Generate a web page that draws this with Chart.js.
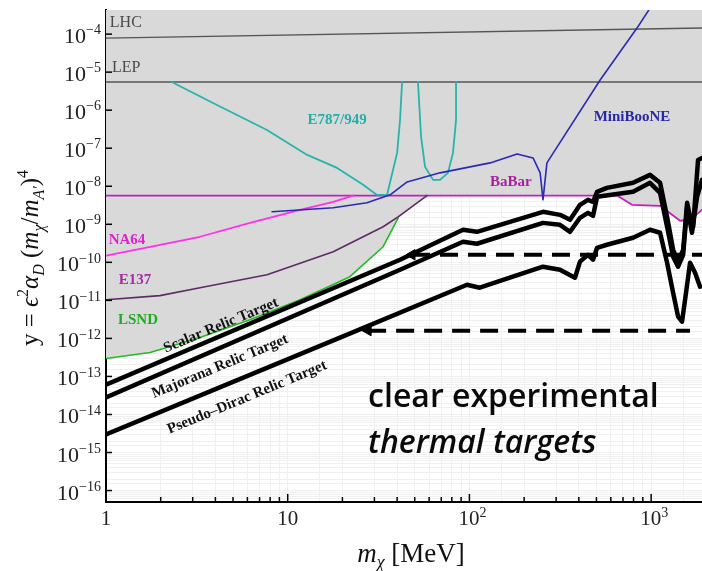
<!DOCTYPE html>
<html>
<head>
<meta charset="utf-8">
<script src="https://cdn.jsdelivr.net/npm/chart.js@4.4.1/dist/chart.umd.min.js"></script>
<style>
    html, body { margin: 0; padding: 0; background: #fff; }
    #wrap { width: 702px; height: 571px; position: relative; }
</style>
</head>
<body>
<div id="wrap"><canvas id="myChart"></canvas></div>
<script>
// axis ranges (m_chi in MeV, y dimensionless)
var xMin = 1, xMax = 1905;
var yMin = 5.1e-17, yMax = 4.3e-4;
var xTickExp = [0, 1, 2, 3];
var yTickExp = [-16, -15, -14, -13, -12, -11, -10, -9, -8, -7, -6, -5, -4];

// experimental bounds, [m_chi, y]
var lhc = [[1, 7.85e-5], [1905, 1.45e-4]];
var lep = [[1, 5.5e-6], [1905, 5.5e-6]];
var babar = [[1, 5.7e-9], [649, 5.7e-9], [785, 3.25e-9], [1120, 3.06e-9], [1443, 1.24e-9], [1637, 1.31e-9], [1905, 2.4e-9]];
var na64 = [[1, 1.49e-10], [1.75, 2.56e-10], [3.29, 4.7e-10], [6.2, 1.09e-9], [11.7, 2.4e-9], [17.8, 3.9e-9], [22.9, 5.7e-9]];
var e137 = [[1, 1.04e-11], [1.98, 1.33e-11], [3.29, 2.15e-11], [7.69, 4.73e-11], [17.8, 1.9e-10], [33.5, 8.6e-10], [40.5, 1.57e-9], [58.4, 5.7e-9]];
var lsnd = [[1, 2.95e-13], [1.75, 4.24e-13], [3.29, 1.05e-12], [6.2, 3.11e-12], [11.7, 1.04e-11], [22, 4.19e-11], [33.5, 2.57e-10], [40.5, 1.45e-9]];
var e787 = [[2.3, 5.5e-6], [4.08, 1.37e-6], [7.69, 3.02e-7], [12.8, 6.67e-8], [18.7, 3.04e-8], [26, 1.09e-8], [31, 5.9e-9],
            [35.2, 5.9e-9], [40, 7.53e-8], [41.5, 5.53e-7], [42.6, 5.5e-6], [47, null],
            [52.1, 5.5e-6], [54.2, 1.98e-7], [57, 3.23e-8], [63.1, 1.47e-8], [68.9, 1.47e-8], [76.2, 2.25e-8], [81.2, 7.53e-8], [84.4, 5.53e-7], [84.4, 5.5e-6]];
var miniboone = [[8.2, 2.13e-9], [17.8, 2.71e-9], [27.3, 3.67e-9], [36.6, 5.94e-9], [45.4, 1.3e-8], [68.9, 2.25e-8], [130, 4.11e-8],
                 [183, 7.08e-8], [224, 5.56e-8], [245, 2.25e-8], [254, 4.4e-9], [267, 4.11e-8], [304, 1.08e-7], [524, 6.2e-6], [836, 1.44e-4], [1011, 5.77e-4]];

// thermal relic targets
var scalarTarget = [[1, 6.1e-14], [41.5, 1.17e-10], [92.2, 7.18e-10], [110, 6.35e-10], [254, 2.13e-9], [315, 1.77e-9], [358, 1.31e-9],
                    [406, 3.25e-9], [449, 4.4e-9], [479, 3.9e-9], [504, 7.13e-9], [571, 9.08e-9], [795, 1.23e-8], [986, 1.99e-8],
                    [1120, 1.23e-8], [1224, 1.57e-9], [1321, 2.14e-10], [1407, 1.04e-10], [1500, 2.14e-10], [1578, 3.67e-9],
                    [1637, 1.57e-9], [1702, 8.6e-10], [1812, 4.93e-8], [1905, 5.56e-8]];
var majoranaTarget = [[1, 2.8e-14], [41.5, 6.4e-11], [92.2, 3.48e-10], [110, 3.08e-10], [254, 1.09e-9], [315, 9.7e-10], [358, 6.35e-10],
                      [406, 1.48e-9], [449, 2.0e-9], [479, 1.67e-9], [504, 5.27e-9], [795, 7.13e-9], [986, 1.23e-8], [1120, 6.7e-9],
                      [1224, 8.6e-10], [1321, 1.4e-10], [1407, 7.7e-11], [1500, 1.58e-10], [1578, 2.88e-9], [1678, 5.98e-10],
                      [1789, 5.27e-9], [1905, 1.47e-8]];
var diracTarget = [[1, 3.0e-15], [19.4, 1.05e-12], [97, 2.58e-11], [114, 2.15e-11], [254, 7.67e-11], [315, 6.4e-11], [381, 3.94e-11],
                   [406, 1.04e-10], [449, 1.58e-10], [479, 1.17e-10], [504, 2.41e-10], [571, 2.9e-10], [795, 4.43e-10], [986, 7.18e-10],
                   [1120, 5.98e-10], [1224, 9.77e-11], [1321, 1.59e-11], [1407, 3.73e-12], [1479, 2.76e-12], [1556, 1.59e-11],
                   [1637, 9.77e-11], [1745, 5.33e-11], [1858, 2.29e-11]];

// "clear experimental targets" arrows
var arrowHigh = [[48.3, 1.58e-10], [1905, 1.58e-10]];
var arrowLow = [[27.7, 1.6e-12], [1637, 1.6e-12]];

// lower edge of the excluded (grey) region
var excluded = lsnd.concat([e137[e137.length - 1]]).concat(babar.slice(1));

var serif = "'Liberation Serif', 'Times New Roman', serif";

var labels = [
    { text: "LHC", x: 1.05, y: 1.95e-4, color: "#4a4a4a", font: "16px " + serif, align: "left" },
    { text: "LEP", x: 1.08, y: 1.32e-5, color: "#4a4a4a", font: "16px " + serif, align: "left" },
    { text: "E787/949", x: 18.7, y: 5.53e-7, color: "#22b0a8", font: "bold 15px " + serif },
    { text: "MiniBooNE", x: 785, y: 6.64e-7, color: "#2828a8", font: "bold 15px " + serif },
    { text: "BaBar", x: 169, y: 1.3e-8, color: "#a8209e", font: "bold 15px " + serif },
    { text: "NA64", x: 1.305, y: 3.92e-10, color: "#e020d0", font: "bold 15px " + serif },
    { text: "E137", x: 1.445, y: 3.49e-11, color: "#a82aa8", font: "bold 15px " + serif },
    { text: "LSND", x: 1.5, y: 3.11e-12, color: "#22aa22", font: "bold 15px " + serif },
    { text: "Scalar Relic Target", x: 4.29, y: 2.17e-12, color: "#111", font: "bold 15px " + serif, angle: -22.5 },
    { text: "Majorana Relic Target", x: 4.24, y: 1.82e-13, color: "#111", font: "bold 15px " + serif, angle: -22.5 },
    { text: "Pseudo\u2013Dirac Relic Target", x: 5.97, y: 2.79e-14, color: "#111", font: "bold 15px " + serif, angle: -22.5 }
];

function pts(arr) {
    return arr.map(function (p) { return { x: p[0], y: p[1] }; });
}

function line(label, arr, color, width) {
    return {
        label: label,
        data: pts(arr),
        borderColor: color,
        borderWidth: width,
        pointRadius: 0,
        fill: false,
        spanGaps: false,
        borderJoinStyle: "round",
        borderCapStyle: "round"
    };
}

function arrow(label, arr) {
    var ds = line(label, arr, "#000", 4);
    ds.borderDash = [18, 10];
    ds.borderCapStyle = "butt";
    ds.pointStyle = "triangle";
    ds.pointRotation = -90;
    ds.pointBackgroundColor = "#000";
    ds.pointBorderColor = "#000";
    ds.pointBorderWidth = 1;
    ds.pointRadius = function (c) { return c.dataIndex === 0 ? 6 : 0; };
    return ds;
}

// small rich-text helper for sub/superscripts
function drawRich(ctx, parts, x, y, size, align) {
    function font(k) {
        var s = (k.indexOf("sup") >= 0 || k.indexOf("sub") >= 0) ? Math.round(size * 0.65) : size;
        return (k.charAt(0) === "i" ? "italic " : "") + s + "px " + serif;
    }
    function dy(k) {
        if (k.indexOf("sup") >= 0) return -size * 0.4;
        if (k.indexOf("sub") >= 0) return size * 0.22;
        return 0;
    }
    var w = 0;
    parts.forEach(function (p) { ctx.font = font(p[1]); w += ctx.measureText(p[0]).width; });
    var cx = align === "center" ? x - w / 2 : (align === "right" ? x - w : x);
    ctx.textAlign = "left";
    ctx.textBaseline = "alphabetic";
    parts.forEach(function (p) {
        ctx.font = font(p[1]);
        ctx.fillText(p[0], cx, y + dy(p[1]));
        cx += ctx.measureText(p[0]).width;
    });
    return w;
}

var decorations = {
    id: "decorations",
    afterDraw: function (chart) {
        var ctx = chart.ctx;
        var xs = chart.scales.x, ys = chart.scales.y;
        var area = chart.chartArea;
        ctx.save();

        // tick marks (inside)
        ctx.strokeStyle = "#000";
        ctx.lineWidth = 1.5;
        xTickExp.forEach(function (e) {
            for (var m = 1; m <= 9; m++) {
                var v = m * Math.pow(10, e);
                if (v > xMax) break;
                var px = xs.getPixelForValue(v);
                ctx.beginPath();
                ctx.moveTo(px, area.bottom);
                ctx.lineTo(px, area.bottom - (m === 1 ? 8 : 5));
                ctx.stroke();
            }
        });
        yTickExp.forEach(function (e) {
            var py = ys.getPixelForValue(Math.pow(10, e));
            ctx.beginPath();
            ctx.moveTo(area.left, py);
            ctx.lineTo(area.left + 6, py);
            ctx.stroke();
        });

        // tick labels
        ctx.fillStyle = "#222";
        yTickExp.forEach(function (e) {
            var py = ys.getPixelForValue(Math.pow(10, e));
            drawRich(ctx, [["10", "n"], ["\u2212" + Math.abs(e), "nsup"]], area.left - 5, py + 9, 22, "right");
        });
        xTickExp.forEach(function (e) {
            var px = xs.getPixelForValue(Math.pow(10, e));
            var parts = e === 0 ? [["1", "n"]] : (e === 1 ? [["10", "n"]] : [["10", "n"], [String(e), "nsup"]]);
            drawRich(ctx, parts, px + (e > 1 ? 3 : 0), area.bottom + 23, 21, "center");
        });

        // axis titles
        ctx.fillStyle = "#111";
        drawRich(ctx, [["m", "i"], ["\u03c7", "isub"], [" [MeV]", "n"]], 411, 562, 27, "center");
        ctx.save();
        ctx.translate(38, 258);
        ctx.rotate(-Math.PI / 2);
        drawRich(ctx, [["y", "n"], [" = ", "n"], ["\u03f5", "i"], ["2", "nsup"], ["\u03b1", "i"], ["D", "isub"],
                       [" (", "n"], ["m", "i"], ["\u03c7", "isub"], ["/", "n"], ["m", "i"], ["A\u2032", "isub"],
                       [")", "n"], ["4", "nsup"]], 0, 0, 25, "center");
        ctx.restore();

        // curve labels
        labels.forEach(function (l) {
            var px = xs.getPixelForValue(l.x), py = ys.getPixelForValue(l.y);
            ctx.save();
            ctx.translate(px, py);
            if (l.angle) ctx.rotate(l.angle * Math.PI / 180);
            ctx.font = l.font;
            ctx.fillStyle = l.color;
            ctx.textAlign = l.align || "center";
            ctx.textBaseline = "middle";
            ctx.fillText(l.text, 0, 0);
            ctx.restore();
        });

        // slide annotation
        ctx.fillStyle = "#0a0a0a";
        ctx.textAlign = "left";
        ctx.textBaseline = "alphabetic";
        ctx.font = "600 32px 'Open Sans', Lato, sans-serif";
        ctx.fillText("clear experimental", xs.getPixelForValue(27.7), ys.getPixelForValue(1.53e-14));
        ctx.font = "italic 600 32px 'Open Sans', Lato, sans-serif";
        ctx.fillText("thermal targets", xs.getPixelForValue(27.7), ys.getPixelForValue(1e-15));

        ctx.restore();
    }
};

window.onload = function () {

    var greyFill = line("excluded", excluded, "rgba(0,0,0,0)", 0);
    greyFill.fill = "end";
    greyFill.backgroundColor = "#d9d9d9";

    var ctx = document.getElementById("myChart").getContext("2d");
    var myChart = new Chart(ctx, {
        type: "line",
        data: {
            datasets: [
                line("Scalar Relic Target", scalarTarget, "#000", 4.5),
                line("Majorana Relic Target", majoranaTarget, "#000", 4.5),
                line("Pseudo-Dirac Relic Target", diracTarget, "#000", 4.5),
                arrow("target high", arrowHigh),
                arrow("target low", arrowLow),
                line("MiniBooNE", miniboone, "#2a2ab4", 1.6),
                line("E787/949", e787, "#26b4ac", 1.8),
                line("NA64", na64, "#ff30e8", 1.8),
                line("E137", e137, "#5e2a66", 1.6),
                line("LSND", lsnd, "#22bb22", 1.6),
                line("BaBar", babar, "#c020c0", 1.8),
                line("LEP", lep, "#555", 1.4),
                line("LHC", lhc, "#555", 1.4),
                greyFill
            ]
        },
        options: {
            responsive: true,
            maintainAspectRatio: false,
            animation: false,
            events: [],
            layout: { autoPadding: false, padding: { top: 10, right: 0, left: 0, bottom: 0 } },
            plugins: {
                legend: { display: false },
                tooltip: { enabled: false }
            },
            scales: {
                x: {
                    type: "logarithmic",
                    min: xMin,
                    max: xMax,
                    ticks: { display: false },
                    grid: { color: "#f0f0f0", drawTicks: false },
                    border: { display: true, color: "#000", width: 2 },
                    afterFit: function (s) { s.height = 69; }
                },
                y: {
                    type: "logarithmic",
                    min: yMin,
                    max: yMax,
                    ticks: { display: false },
                    grid: { color: "#f0f0f0", drawTicks: false },
                    border: { display: true, color: "#000", width: 2 },
                    afterFit: function (s) { s.width = 106; }
                }
            }
        },
        plugins: [decorations]
    });

}
</script>
</body>
</html>
